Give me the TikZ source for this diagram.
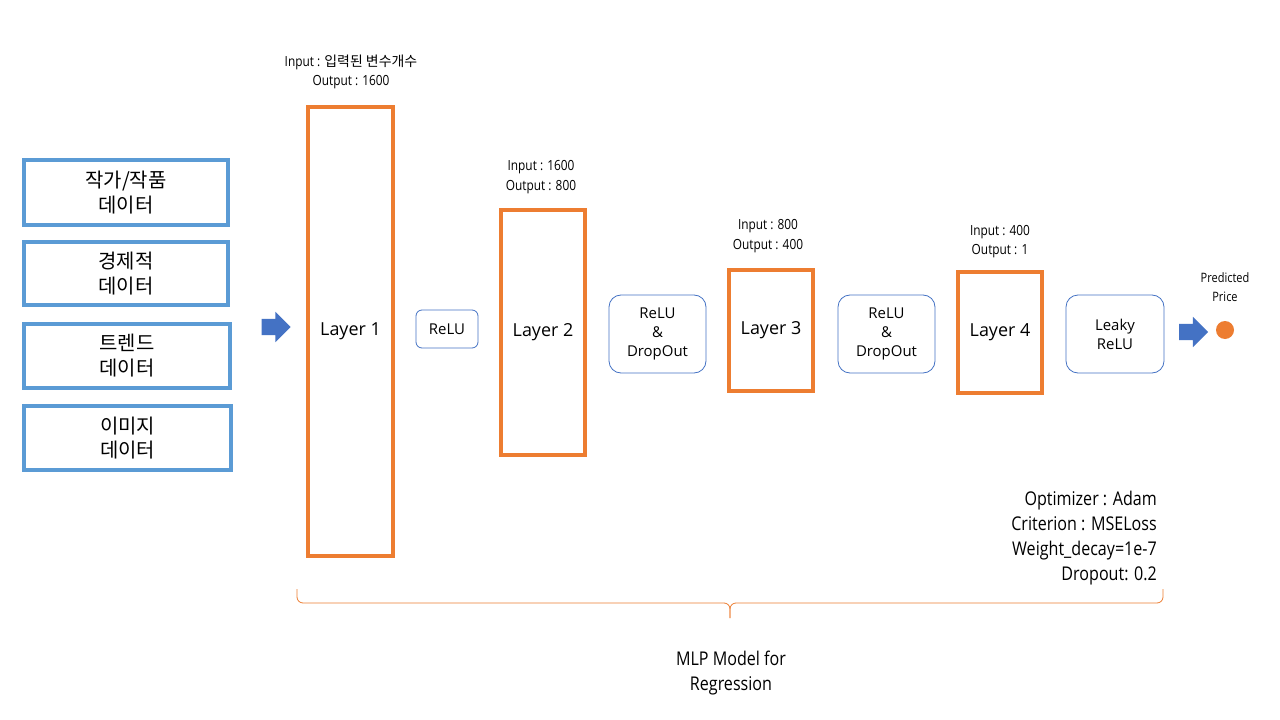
\documentclass[tikz,border=0pt]{standalone}
\usepackage{fontspec}
\usepackage{tikz}
\setmainfont{Open Sans}
\newfontfamily\kor{Noto Sans CJK KR}
\newfontfamily\narrow[FakeStretch=0.85]{Open Sans}
\definecolor{dataBlue}{HTML}{5B9BD5}
\definecolor{layerOrange}{HTML}{ED7D31}
\definecolor{actBlue}{HTML}{4472C4}
\usetikzlibrary{shapes.arrows}

\begin{document}
\begin{tikzpicture}[x=1bp, y=-1bp]
    \tikzstyle{databox} = [draw=dataBlue, line width=4bp, inner sep=0pt, align=center, font=\kor\fontsize{20}{25}\selectfont]
    \tikzstyle{layer} = [draw=layerOrange, line width=4bp, inner sep=0pt, minimum width=84bp, font=\fontsize{18}{20}\selectfont]
    \tikzstyle{act} = [draw=actBlue, line width=0.8bp, rounded corners=12bp, inner sep=0pt, align=center, minimum height=78bp, minimum width=97bp, font=\fontsize{15}{19}\selectfont]
    \tikzstyle{info} = [inner sep=0pt, align=center, font=\narrow\fontsize{14}{19.5}\selectfont]
    \tikzstyle{blockarrow} = [single arrow, fill=actBlue, inner xsep=0pt, inner ysep=8bp, minimum height=29bp, single arrow head extend=7bp]
    \fill[white] (0,0) rectangle (1280,720);
    \useasboundingbox (0,0) rectangle (1280,720);

    % input data
    \node[databox, minimum width=204bp, minimum height=65bp] (dataA) at (126,192.5) {작가/작품\\데이터};
    \node[databox, minimum width=204bp, minimum height=63bp] (dataB) at (126,273.5) {경제적\\데이터};
    \node[databox, minimum width=206bp, minimum height=64bp] (dataC) at (127,356) {트렌드\\데이터};
    \node[databox, minimum width=207bp, minimum height=64bp] (dataD) at (127.5,438) {이미지\\데이터};
    \node[blockarrow] (arrIn) at (272,327) {};

    % layers
    \node[layer, minimum width=85bp, minimum height=449bp] (lay1) at (350.5,331.5) {Layer 1};
    \node[layer, minimum height=245bp] (lay2) at (543,332.5) {Layer 2};
    \node[layer, minimum height=121bp] (lay3) at (771,330.5) {Layer 3};
    \node[layer, minimum height=121bp] (lay4) at (1000,332.5) {Layer 4};
    \node[info] (inf1) at (351,72) {Input : {\kor 입력된 변수개수}\\Output : 1600};
    \node[info] (inf2) at (541,177) {Input : 1600\\Output : 800};
    \node[info] (inf3) at (768,236) {Input : 800\\Output : 400};
    \node[info] (inf4) at (1000,241.5) {Input : 400\\Output : 1};

    % activations
    \node[act, rounded corners=6bp, minimum width=62bp, minimum height=38bp] (relu) at (447,329) {ReLU};
    \node[act] (drop1) at (657.5,334) {ReLU\\\&\\DropOut};
    \node[act] (drop2) at (886.5,334) {ReLU\\\&\\DropOut};
    \node[act, minimum width=98bp] (leaky) at (1115,334) {Leaky\\ReLU};

    % output
    \node[blockarrow] (arrOut) at (1189.5,332) {};
    \node[circle, fill=layerOrange, inner sep=0pt, minimum size=18bp] (pred) at (1225,330) {};
    \node[info, font=\narrow\fontsize{13}{19}\selectfont] (predTxt) at (1225,287.5) {Predicted\\Price};

    \node[inner sep=0pt, align=right, anchor=east, font=\narrow\fontsize{19}{25.3}\selectfont] (hyper) at (1157,538) {Optimizer : Adam\\Criterion : MSELoss\\Weight\_decay=1e-7\\Dropout: 0.2};

    % model brace
    \coordinate (brL) at (297,589);
    \coordinate (brR) at (1163,589);
    \coordinate (brMid) at (730,603);
    \coordinate (brTip) at (730,618);
    \draw[layerOrange, line width=0.8bp, rounded corners=6bp] (brL) |- (brMid) -- (brTip);
    \draw[layerOrange, line width=0.8bp, rounded corners=6bp] (brR) |- (brMid) -- (brTip);
    \node[inner sep=0pt, align=center, font=\narrow\fontsize{19}{26}\selectfont] (model) at (731,673) {MLP Model for\\Regression};
\end{tikzpicture}
\end{document}
